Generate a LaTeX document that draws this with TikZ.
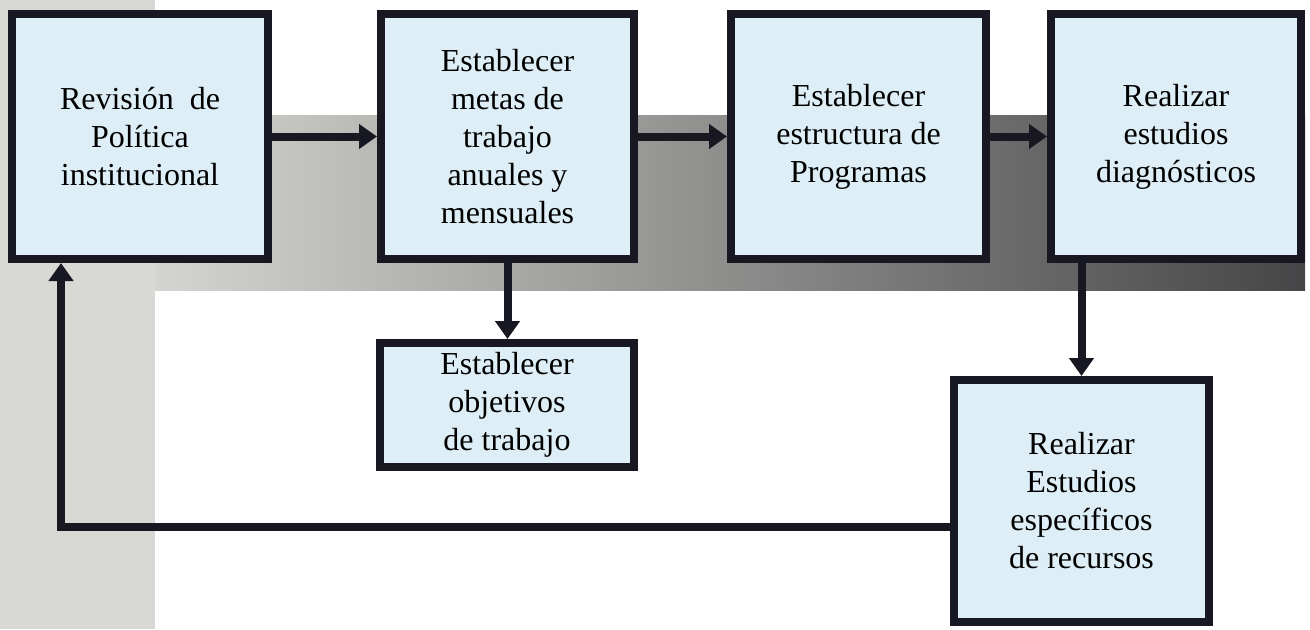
\documentclass[tikz,border=0pt]{standalone}
\usepackage{fontspec}
\setmainfont{Liberation Serif}
\usetikzlibrary{arrows.meta}
\definecolor{ink}{RGB}{24,24,34}
\definecolor{boxfill}{RGB}{221,238,246}
\definecolor{stripgray}{RGB}{216,216,212}
\definecolor{bandL}{RGB}{212,212,208}
\definecolor{bandR}{RGB}{70,70,72}
\begin{document}
\begin{tikzpicture}[x=0.5pt,y=-0.5pt,
  stepbox/.style={draw=ink, line width=4pt, fill=boxfill, align=center, inner sep=0pt,
    font=\fontsize{16}{19}\selectfont},
  flow/.style={draw=ink, line width=4pt, -{Triangle[length=9pt,width=12pt]}}]
\useasboundingbox (0,0) rectangle (1310,629);
\fill[white] (0,0) rectangle (1310,629);
\fill[stripgray] (0,0) rectangle (155,629);
\shade[left color=bandL, right color=bandR] (155,115) rectangle (1305,290);

\node[stepbox, minimum width=128pt, minimum height=122.5pt] (b1) at (140,136.5)
  {Revisión~ de\\Política\\institucional};
\node[stepbox, minimum width=126.5pt, minimum height=122.5pt] (b2) at (507.5,136.5)
  {Establecer\\metas de\\trabajo\\anuales y\\mensuales};
\node[stepbox, minimum width=127.5pt, minimum height=122.5pt] (b3) at (858.5,136.5)
  {Establecer\\estructura de\\Programas};
\node[stepbox, minimum width=125pt, minimum height=122.5pt] (b4) at (1176,136.5)
  {Realizar\\estudios\\diagnósticos};
\node[stepbox, minimum width=127pt, minimum height=62pt] (b6) at (507,405)
  {Establecer\\objetivos\\de trabajo};
\node[stepbox, minimum width=127.5pt, minimum height=121pt] (b5) at (1081.5,501)
  {Realizar\\Estudios\\específicos\\de recursos};

\coordinate (fbturn) at (61,527);

\draw[flow] (b1.east) -- (b2.west);
\draw[flow] (b2.east) -- (b3.west);
\draw[flow] (b3.east) -- (b4.west);
\draw[flow] (b2.south) -- (b2.south |- b6.north);
\draw[flow] (b4.south -| b5.north) -- (b5.north);
\draw[flow] (b5.west |- fbturn) -- (fbturn) -- (fbturn |- b1.south);
\end{tikzpicture}
\end{document}
